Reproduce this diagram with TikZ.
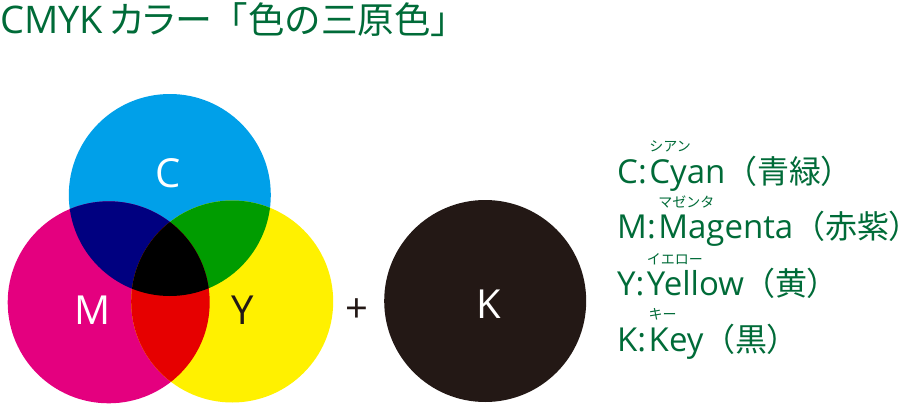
\documentclass[tikz,border=0pt]{standalone}
\usepackage{fontspec}
\setmainfont{Open Sans}
\newfontfamily\jpfont{Noto Sans CJK JP}
\newfontfamily\jpprop[RawFeature=+palt]{Noto Sans CJK JP}
\definecolor{titlegreen}{HTML}{006B38}
\definecolor{cyanC}{HTML}{00A0E9}
\definecolor{magentaM}{HTML}{E4007F}
\definecolor{yellowY}{HTML}{FFF100}
\definecolor{navyCM}{HTML}{000080}
\definecolor{greenCY}{HTML}{009C00}
\definecolor{redMY}{HTML}{E60000}
\definecolor{blackK}{HTML}{231815}
\newcommand\rubyword[2]{\rlap{\raisebox{0.95em}{\fontsize{14}{14}\selectfont\jpfont #2}}#1}
\newcommand\kanjipart[1]{{\fontsize{32}{32}\selectfont{\jpfont （#1}{\jpprop ）}}}
\tikzset{
  lbl/.style={inner sep=0pt, font=\fontsize{40}{40}\selectfont},
  legend/.style={inner sep=0pt, anchor=base west, text=titlegreen, font=\fontsize{33}{33}\selectfont},
}
\begin{document}
\begin{tikzpicture}[x=1pt,y=-1pt]
\useasboundingbox (0,0) rectangle (906,407);
% title
\node[inner sep=0pt, anchor=base west, text=titlegreen, font=\fontsize{38}{38}\selectfont] (title) at (0,33)
  {CMYK\kern6pt{\jpprop\fontsize{37}{37}\selectfont カラー}{\jpfont\fontsize{36.5}{36.5}\selectfont 「色の三原色」}};
% circles
\def\r{101}
\coordinate (cC) at (169.8,195);
\coordinate (cM) at (108.7,302.3);
\coordinate (cY) at (232.2,301.5);
\coordinate (cK) at (485.2,301);
\fill[cyanC] (cC) circle (\r);
\fill[magentaM] (cM) circle (\r);
\fill[yellowY] (cY) circle (\r);
\begin{scope}
  \clip (cC) circle (\r);
  \fill[navyCM] (cM) circle (\r);
  \fill[greenCY] (cY) circle (\r);
\end{scope}
\begin{scope}
  \clip (cM) circle (\r);
  \fill[redMY] (cY) circle (\r);
\end{scope}
\begin{scope}
  \clip (cC) circle (\r);
  \clip (cM) circle (\r);
  \fill[black] (cY) circle (\r);
\end{scope}
\fill[blackK] (cK) circle (\r);
% labels
\node[lbl, text=white] (labC) at (168.5,173.5) {C};
\node[lbl, text=white] (labM) at (92.5,310) {M};
\node[lbl, text=blackK] (labY) at (243,310) {Y};
\node[lbl, text=white] (labK) at (489,304.7) {K};
\node[lbl, text=blackK, font=\fontsize{40}{40}\selectfont] (plus) at (357,311) {+};
% legend
\node[legend] (rowC) at (617,183.3) {C:\kern2.5pt\rubyword{Cyan}{シアン}\kanjipart{青緑}};
\node[legend] (rowM) at (617,238.5) {M:\kern2.5pt\rubyword{Magenta}{マゼンタ}\kanjipart{赤紫}};
\node[legend] (rowY) at (617,295.7) {Y:\kern2.5pt\rubyword{Yellow}{イエロー}\kanjipart{黄}};
\node[legend] (rowK) at (617,351) {K:\kern2.5pt\rubyword{Key}{キー}\kanjipart{黒}};
\end{tikzpicture}
\end{document}
